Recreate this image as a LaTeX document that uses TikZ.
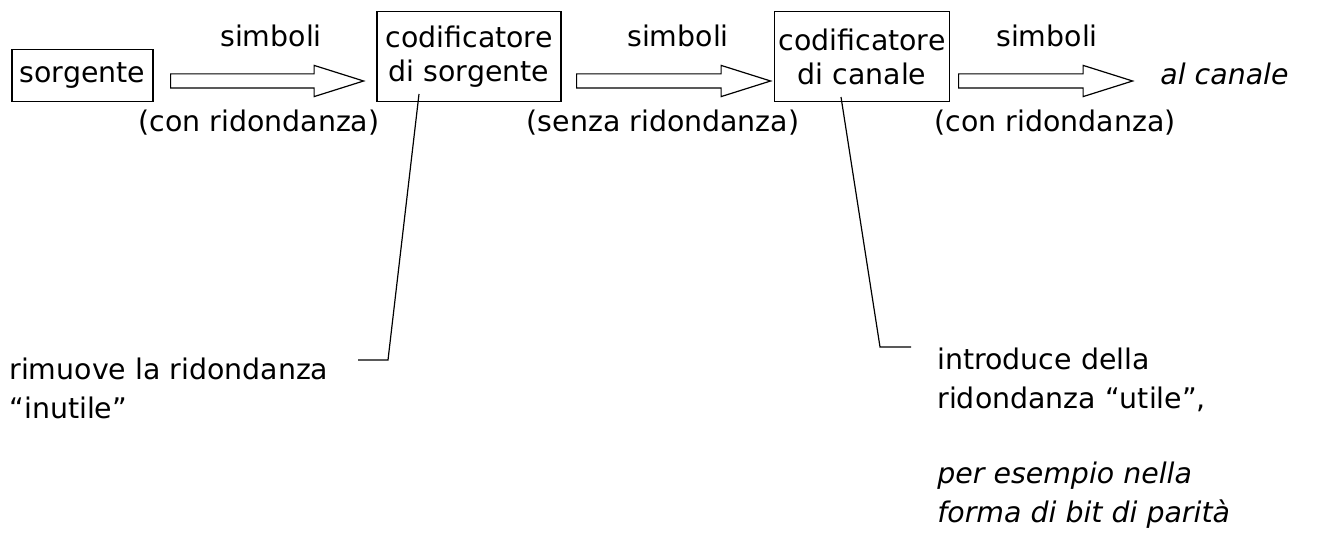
\documentclass[tikz,border=0pt]{standalone}
\usepackage{fontspec}
\setmainfont{DejaVu Sans}
\usetikzlibrary{shapes.arrows,positioning}

\begin{document}
\begin{tikzpicture}[
    x=0.5pt, y=-0.5pt,
    font=\fontsize{14.2}{17}\selectfont,
    box/.style={draw, line width=0.6pt, align=center,
                inner sep=2pt, minimum height=45pt},
    fatarrow/.style={draw, line width=0.6pt, single arrow,
                single arrow head extend=4.25pt, single arrow tip angle=35,
                inner xsep=0pt, inner ysep=3.25pt, minimum width=0pt,
                anchor=tail},
    lbl/.style={inner sep=0pt, anchor=base},
    note/.style={inner sep=0pt, anchor=base west, align=left,
                 font=\fontsize{14.2}{19.5}\selectfont},
    pin/.style={line width=0.6pt}
]
\useasboundingbox (0,0) rectangle (1342,540);
% --- blocks -------------------------------------------------------------
\node[box, minimum width=70.5pt, minimum height=26pt] (src) at (82.5,75.5) {sorgente};
\node[box, minimum width=92pt] (cs) at (469,56.5) {codificatore\\di sorgente};
\node[box, minimum width=82pt] (cc) at (862,56.5) {codificatore\\di canale};
\node[lbl, anchor=base west] (out) at (1160,85) {\itshape al canale};
% --- fat arrows -----------------------------------------------------------
\node[fatarrow, minimum height=96.5pt] (a1) at (170,81) {};
\node[fatarrow, minimum height=97pt]   (a2) at (576,81) {};
\node[fatarrow, minimum height=87pt]   (a3) at (958,81) {};
% --- arrow labels ---------------------------------------------------------
\node[lbl] (s1) at (271,47)  {simboli};
\node[lbl] (s2) at (678,47)  {simboli};
\node[lbl] (s3) at (1047,47) {simboli};
\node[lbl] (r1) at (259,131)  {(con ridondanza)};
\node[lbl] (r2) at (663,131)  {(senza ridondanza)};
\node[lbl] (r3) at (1055,131) {(con ridondanza)};
% --- notes (base = last line) ----------------------------------------------
\node[note] (rim) at (9,418) {rimuove la ridondanza\\``inutile''};
\node[note] (intro) at (937,522) {introduce della\\ridondanza ``utile'',\\[18pt]
    \itshape per esempio nella\\\itshape forma di bit di parità};
% --- callout lines --------------------------------------------------------
\coordinate (cs-pin)   at (419,94);
\coordinate (cs-knee)  at (388,360);
\coordinate (rim-end)  at (358,360);
\coordinate (cc-pin)   at (841,97);
\coordinate (cc-knee)  at (880,347);
\coordinate (intro-end) at (911,347);
\draw[pin] (cs-pin) -- (cs-knee) -- (rim-end);
\draw[pin] (cc-pin) -- (cc-knee) -- (intro-end);
\end{tikzpicture}
\end{document}
